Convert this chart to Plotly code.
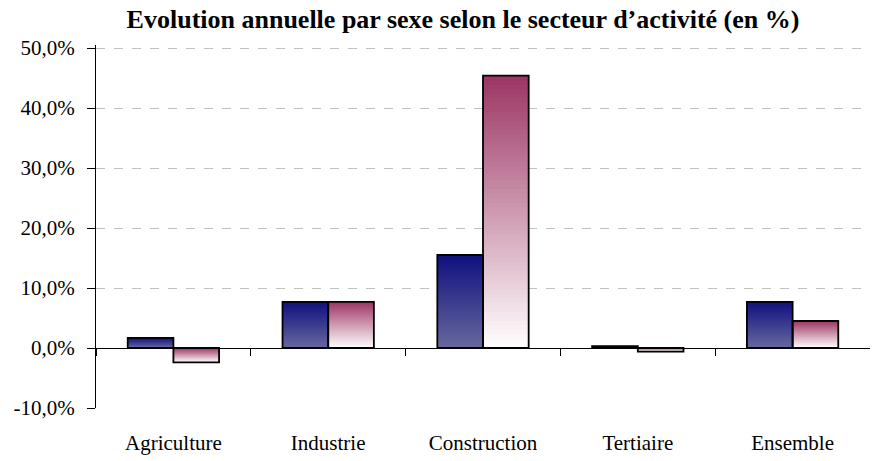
import plotly.graph_objects as go

categories = ["Agriculture", "Industrie", "Construction", "Tertiaire", "Ensemble"]
hommes = [1.7, 7.7, 15.5, 0.3, 7.7]
femmes = [-2.4, 7.7, 45.4, -0.6, 4.5]
tick_vals = [-10, 0, 10, 20, 30, 40, 50]
tick_labels = ["-10,0%", "0,0%", "10,0%", "20,0%", "30,0%", "40,0%", "50,0%"]

FONT = "Liberation Serif"
N = 60  # gradient steps per bar
Y_MIN, Y_MAX = -10, 50.5


def mix(c1, c2, t):
    return "rgb(%d,%d,%d)" % tuple(round(a + (b - a) * t) for a, b in zip(c1, c2))


def gradient_trace(values, top_col, bot_col, group):
    # each bar drawn as overlapping slices, dark at the top, light at the bottom
    xs, bases, heights, cols = [], [], [], []
    for k in range(N):
        for cat, v in zip(categories, values):
            top, bot = max(0, v), min(0, v)
            h = top - bot
            xs.append(cat)
            bases.append(bot)
            heights.append(h * (N - k) / N)
            cols.append(mix(top_col, bot_col, (k + 0.5) / N))
    return go.Bar(x=xs, y=heights, base=bases, offsetgroup=group,
                  marker=dict(color=cols, line=dict(width=0)),
                  showlegend=False, hoverinfo="skip")


def outline_trace(values, group):
    return go.Bar(x=categories, y=values, offsetgroup=group,
                  marker=dict(color="rgba(0,0,0,0)", line=dict(color="black", width=1.8)),
                  showlegend=False)


fig = go.Figure()
fig.add_trace(gradient_trace(hommes, (16, 16, 127), (104, 104, 158), "h"))
fig.add_trace(gradient_trace(femmes, (156, 53, 99), (255, 255, 255), "f"))
fig.add_trace(outline_trace(hommes, "h"))
fig.add_trace(outline_trace(femmes, "f"))
# helper trace for the category ticks sitting on the zero line
fig.add_trace(go.Scatter(x=categories, y=[0] * len(categories), xaxis="x2",
                         mode="lines", line=dict(width=0), showlegend=False,
                         hoverinfo="skip"))

fig.update_layout(
    width=872, height=461,
    margin=dict(l=96, r=2, t=45, b=53),
    paper_bgcolor="white", plot_bgcolor="white",
    barmode="group", bargap=0.41, bargroupgap=0,
    font=dict(family=FONT, size=21, color="black"),
    title=dict(text="<b>Evolution annuelle par sexe selon le secteur d’activité (en %)</b>",
               x=0.531, xanchor="center", y=1 - 19 / 461, yanchor="middle",
               font=dict(family=FONT, size=26, color="black")),
    xaxis=dict(type="category", showline=False, ticks="", showgrid=False,
               range=[-0.5, 4.5], ticklabelstandoff=20, automargin=False),
    xaxis2=dict(type="category", overlaying="x", anchor="free",
                position=-Y_MIN / (Y_MAX - Y_MIN),
                range=[-0.5, 4.499], showticklabels=False, ticks="outside",
                tickson="boundaries", ticklen=7, tickcolor="black",
                showgrid=False, showline=False, zeroline=False, automargin=False),
    yaxis=dict(range=[Y_MIN, Y_MAX], tickvals=tick_vals, ticktext=tick_labels,
               showline=True, linecolor="black", linewidth=1,
               ticks="outside", ticklen=8, tickcolor="black", ticklabelstandoff=8,
               showgrid=True, gridcolor="#c0c0c0", griddash="dash", gridwidth=1,
               zeroline=True, zerolinecolor="black", zerolinewidth=1.3,
               automargin=False),
)

fig.write_html("out.html", config={"displayModeBar": False},
               post_script="document.body.style.margin='0';")
